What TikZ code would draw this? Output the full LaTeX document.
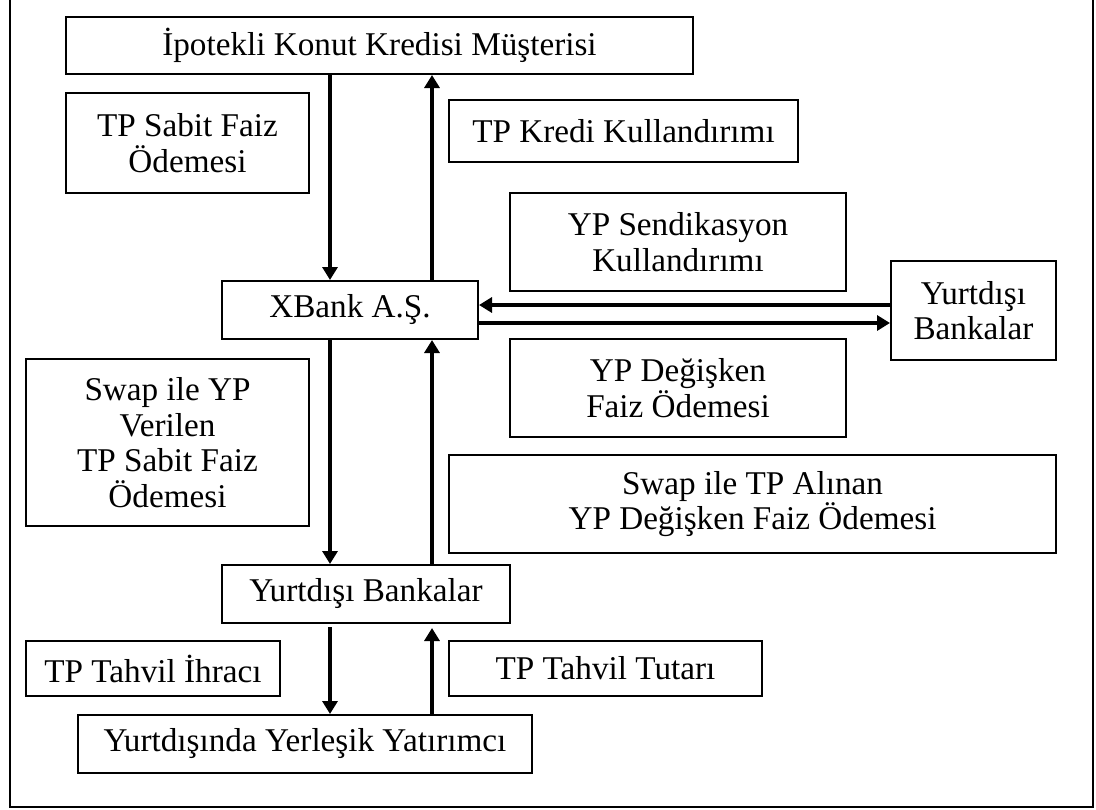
\documentclass[tikz,border=0pt]{standalone}
\usepackage{fontspec}
\setmainfont{Liberation Serif}
\usetikzlibrary{arrows.meta}

\tikzset{
  box/.style={draw, line width=1pt, inner sep=0pt, align=center,
    font=\fontsize{16.6pt}{17.8pt}\selectfont},
  flow/.style={line width=1.7pt, -{Triangle[length=6.5pt,width=7.5pt]}}
}

\begin{document}
\begin{tikzpicture}[x=0.5pt, y=-0.5pt]
  \useasboundingbox (0,0) rectangle (1096,809);

  % outer frame (its top edge lies above the page)
  \draw[line width=1pt] (10,-10) -- (10,807) -- (1093,807) -- (1093,-10);

  % parties and flow labels (centre, width and height in half points)
  \node[box, minimum width=313.5pt, minimum height=28.5pt] (musteri) at (379.5,45.5) {İpotekli Konut Kredisi Müşterisi};
  \node[box, minimum width=121.5pt, minimum height=50pt] (sabit) at (187.5,143) {TP Sabit Faiz\\Ödemesi};
  \node[box, minimum width=174.5pt, minimum height=31pt] (kredi) at (623.5,131) {TP Kredi Kullandırımı};
  \node[box, minimum width=168pt, minimum height=49pt] (sendika) at (678,242) {YP Sendikasyon\\Kullandırımı};
  \node[box, minimum width=128pt, minimum height=29pt] (xbank) at (350,310) {XBank A.Ş.};
  \node[box, minimum width=82.5pt, minimum height=49.5pt] (ydbsag) at (973.5,310.5) {Yurtdışı\\Bankalar};
  \node[box, minimum width=168pt, minimum height=49pt] (degisken) at (678,388) {YP Değişken\\Faiz Ödemesi};
  \node[box, minimum width=141.5pt, minimum height=83.5pt] (swapyp) at (167.5,442.5) {Swap ile YP\\Verilen\\TP Sabit Faiz\\Ödemesi};
  \node[box, minimum width=303.5pt, minimum height=49pt] (swaptp) at (752.5,504) {Swap ile TP Alınan\\YP Değişken Faiz Ödemesi};
  \node[box, minimum width=144pt, minimum height=29pt] (ydbalt) at (366,594) {Yurtdışı Bankalar};
  \node[box, minimum width=127pt, minimum height=27.5pt] (ihrac) at (153,668.5) {TP Tahvil İhracı};
  \node[box, minimum width=156.5pt, minimum height=27.5pt] (tutar) at (605.5,668.5) {TP Tahvil Tutarı};
  \node[box, minimum width=227pt, minimum height=29pt] (yatirimci) at (305,744) {Yurtdışında Yerleşik Yatırımcı};

  % columns and rows of the connectors
  \coordinate (asagi) at (330,0);
  \coordinate (yukari) at (432,0);
  \coordinate (sola) at (0,305);
  \coordinate (saga) at (0,323);

  % payment flows
  \draw[flow] (musteri.south -| asagi) -- (xbank.north -| asagi);
  \draw[flow] (xbank.north -| yukari) -- (musteri.south -| yukari);
  \draw[flow] (ydbsag.west |- sola) -- (xbank.east |- sola);
  \draw[flow] (xbank.east |- saga) -- (ydbsag.west |- saga);
  \draw[flow] (xbank.south -| asagi) -- (ydbalt.north -| asagi);
  \draw[flow] (ydbalt.north -| yukari) -- (xbank.south -| yukari);
  \draw[flow, shorten <=1.5pt] (ydbalt.south -| asagi) -- (yatirimci.north -| asagi);
  \draw[flow, shorten >=2pt] (yatirimci.north -| yukari) -- (ydbalt.south -| yukari);
\end{tikzpicture}
\end{document}
